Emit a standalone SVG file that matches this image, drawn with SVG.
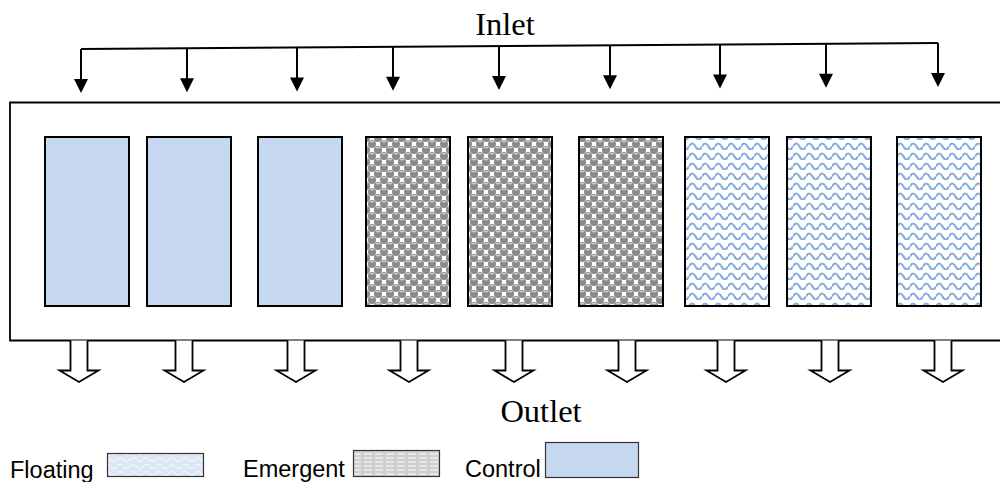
<svg xmlns="http://www.w3.org/2000/svg" width="1000" height="482" viewBox="0 0 1000 482">
<style>
.box{stroke:#000;stroke-width:2}
.ctl{fill:#C6D8EF}
.emg{fill:url(#spheres)}
.flt{fill:url(#waves)}
.wire{fill:none;stroke:#000;stroke-width:2}
.head{fill:#000}
.out{fill:#fff;stroke:#000;stroke-width:1.8;stroke-linejoin:miter}
.lbl{font-family:"Liberation Serif","Times New Roman",serif;font-size:32.5px;fill:#000}
.leg{font-family:"Liberation Sans",Arial,sans-serif;font-size:23.5px;fill:#000}
.legbox{stroke:#333;stroke-width:1.2}
</style>
<defs>
<pattern id="spheres" patternUnits="userSpaceOnUse" width="12" height="12">
<rect width="12" height="12" fill="#fff"/>
<g fill="#8a8a8a">
<circle cx="0" cy="0" r="4"/><circle cx="12" cy="0" r="4"/><circle cx="0" cy="12" r="4"/><circle cx="12" cy="12" r="4"/><circle cx="6" cy="6" r="4"/>
</g>
<g fill="#cfcfcf">
<ellipse cx="6" cy="3.6" rx="2.2" ry="0.9"/><ellipse cx="0" cy="9.6" rx="2.2" ry="0.9"/><ellipse cx="12" cy="9.6" rx="2.2" ry="0.9"/>
</g>
</pattern>
<pattern id="waves" patternUnits="userSpaceOnUse" width="13" height="10">
<rect width="13" height="10" fill="#fff"/>
<path d="M0,6.5 Q3.25,0.5 6.5,6.5 T13,6.5" fill="none" stroke="#86ACDD" stroke-width="2.2"/>
</pattern>
<pattern id="legwaves" patternUnits="userSpaceOnUse" width="13" height="7">
<rect width="13" height="7" fill="#DCE6F4"/>
<path d="M0,4.5 Q3.25,0.5 6.5,4.5 T13,4.5" fill="none" stroke="#fff" stroke-width="1"/>
</pattern>
<pattern id="legdash" patternUnits="userSpaceOnUse" width="11" height="4">
<rect width="11" height="4" fill="#CFCFCF"/>
<line x1="1" y1="2" x2="9" y2="2" stroke="#f4f4f4" stroke-width="1.3"/>
</pattern>
<path id="hollow" class="out" d="M-8.5,0 V30 H-19.5 L0,41.5 L19.5,30 H8.5 V0"/>
<path id="inhead" class="head" d="M-7,-14 L7,-14 L0,0 Z"/>
</defs>

<rect width="1000" height="482" fill="#fff"/>

<g id="basin">
<path d="M1002,102.5 H10 V340.5 H1002" fill="none" stroke="#000" stroke-width="1.8"/>
</g>

<g id="c1"><rect class="box ctl" x="45" y="137" width="84" height="169"/></g>
<g id="c2"><rect class="box ctl" x="147" y="137" width="84" height="169"/></g>
<g id="c3"><rect class="box ctl" x="258" y="137" width="84" height="169"/></g>
<g id="e1"><rect class="box emg" x="366" y="137" width="84" height="169"/></g>
<g id="e2"><rect class="box emg" x="468" y="137" width="84" height="169"/></g>
<g id="e3"><rect class="box emg" x="579" y="137" width="84" height="169"/></g>
<g id="f1"><rect class="box flt" x="685" y="137" width="84" height="169"/></g>
<g id="f2"><rect class="box flt" x="787" y="137" width="84" height="169"/></g>
<g id="f3"><rect class="box flt" x="897" y="137" width="84" height="169"/></g>

<g id="connectors">
<path class="wire" d="M81,49 L938,43"/>
<g class="wire">
<line x1="81" y1="49" x2="81" y2="81"/>
<line x1="187" y1="48.3" x2="187" y2="80.3"/>
<line x1="297" y1="47.5" x2="297" y2="79.5"/>
<line x1="393" y1="46.8" x2="393" y2="78.8"/>
<line x1="499" y1="46.1" x2="499" y2="78.1"/>
<line x1="610" y1="45.3" x2="610" y2="77.3"/>
<line x1="720" y1="44.5" x2="720" y2="76.5"/>
<line x1="826" y1="43.8" x2="826" y2="75.8"/>
<line x1="938" y1="43" x2="938" y2="75"/>
</g>
<use href="#inhead" x="81" y="93"/>
<use href="#inhead" x="187" y="92.3"/>
<use href="#inhead" x="297" y="91.5"/>
<use href="#inhead" x="393" y="90.8"/>
<use href="#inhead" x="499" y="90.1"/>
<use href="#inhead" x="610" y="89.3"/>
<use href="#inhead" x="720" y="88.5"/>
<use href="#inhead" x="826" y="87.8"/>
<use href="#inhead" x="938" y="87"/>
<g id="outlets">
<use href="#hollow" x="79" y="340.5"/>
<use href="#hollow" x="184" y="340.5"/>
<use href="#hollow" x="296" y="340.5"/>
<use href="#hollow" x="409" y="340.5"/>
<use href="#hollow" x="514" y="340.5"/>
<use href="#hollow" x="627" y="340.5"/>
<use href="#hollow" x="726" y="340.5"/>
<use href="#hollow" x="830" y="340.5"/>
<use href="#hollow" x="943" y="340.5"/>
</g>
</g>

<g id="labels">
<text class="lbl" x="505" y="35" text-anchor="middle">Inlet</text>
<text class="lbl" x="541" y="422" text-anchor="middle">Outlet</text>
</g>

<g id="legend">
<text class="leg" x="10" y="478">Floating</text>
<rect class="legbox" x="107.5" y="453.5" width="96" height="23" fill="url(#legwaves)"/>
<text class="leg" x="243" y="477">Emergent</text>
<rect class="legbox" x="353.5" y="450.5" width="86" height="26" fill="url(#legdash)"/>
<text class="leg" x="465" y="477">Control</text>
<rect class="legbox" x="545.5" y="442.5" width="93" height="35" fill="#C6D8EF"/>
</g>
</svg>
